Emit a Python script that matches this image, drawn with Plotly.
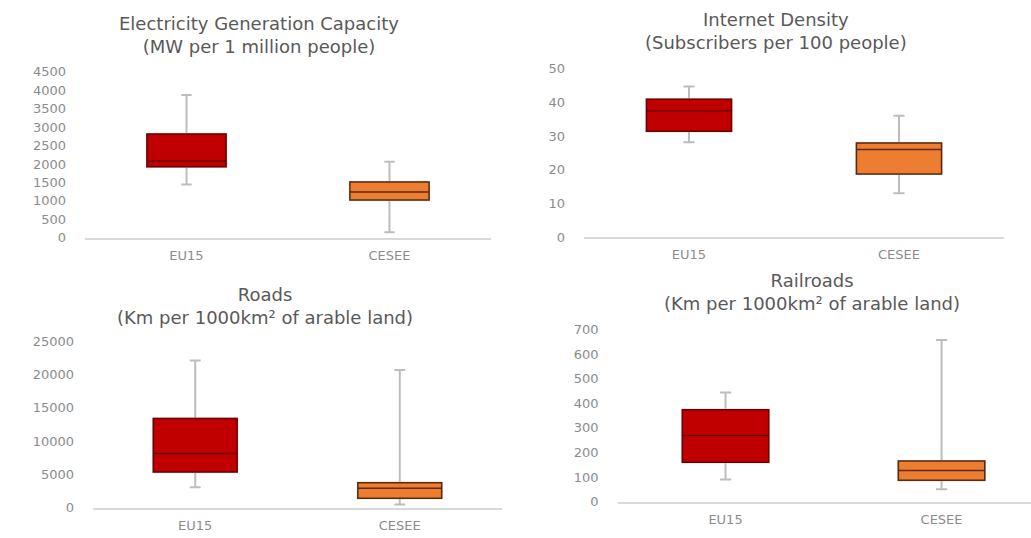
import plotly.graph_objects as go

# Categories shared by all four panels
categories = ["EU15", "CESEE"]

# Electricity generation capacity (MW per 1 million people)
elec_low = [1440, 150]
elec_q1 = [1925, 1020]
elec_med = [2080, 1240]
elec_q3 = [2810, 1510]
elec_high = [3870, 2060]

# Internet density (subscribers per 100 people)
net_low = [28.1, 13]
net_q1 = [31.4, 18.7]
net_med = [37.5, 26.0]
net_q3 = [40.9, 27.9]
net_high = [44.7, 36]

# Roads (km per 1000 km2 of arable land)
road_low = [3070, 490]
road_q1 = [5365, 1420]
road_med = [8140, 2920]
road_q3 = [13400, 3760]
road_high = [22120, 20700]

# Railroads (km per 1000 km2 of arable land)
rail_low = [90, 50]
rail_q1 = [160, 87]
rail_med = [269, 126]
rail_q3 = [374, 165]
rail_high = [444, 658]

titles = [
    "Electricity Generation Capacity<br>(MW per 1 million people)",
    "Internet Density<br>(Subscribers per 100 people)",
    "Roads<br>(Km per 1000km² of arable land)",
    "Railroads<br>(Km per 1000km² of arable land)",
]
y_max = [4500, 50, 25000, 700]
y_step = [500, 10, 5000, 100]

W, H = 1031, 538
FONT = "DejaVu Sans"
TITLE_C = "#595959"
TICK_C = "#8c8c8c"
WHISKER_C = "#bdbdbd"
FILLS = ["#c00000", "#ed7d31"]
EDGES = ["#6e0000", "#5c2a0c"]

# panel geometry in pixels: x0, x1, y_bottom, y_top, box width, x range end
panels = [
    (85, 491, 237.3, 66.7, 0.39, 1.5),
    (584, 1004, 236.7, 63.3, 0.405, 1.5),
    (93, 502, 515, 344, 0.41, 1.5),
    (617.5, 1031, 508.7, 332, 0.40, 1.414),
]
# title block centres in pixels
title_pos = [(259, 29), (776, 25), (265, 307.5), (812, 293.5)]

stats = [
    (elec_low, elec_q1, elec_med, elec_q3, elec_high),
    (net_low, net_q1, net_med, net_q3, net_high),
    (road_low, road_q1, road_med, road_q3, road_high),
    (rail_low, rail_q1, rail_med, rail_q3, rail_high),
]

fig = go.Figure()
layout = dict(
    width=W, height=H,
    margin=dict(l=0, r=0, t=0, b=0),
    paper_bgcolor="white", plot_bgcolor="white",
    boxmode="overlay", showlegend=False,
    font=dict(family=FONT, color=TICK_C, size=13),
    annotations=[],
)

for i, ((lo, q1, med, q3, hi), (x0, x1, yb, yt, bw, xr)) in enumerate(zip(stats, panels)):
    n = "" if i == 0 else str(i + 1)
    xa, ya = "x" + n, "y" + n

    # grey whiskers with short caps
    fig.add_trace(go.Box(
        x=categories, q1=q1, median=med, q3=q3, lowerfence=lo, upperfence=hi,
        width=bw, whiskerwidth=0.13, line=dict(color=WHISKER_C, width=2),
        fillcolor="rgba(0,0,0,0)", xaxis=xa, yaxis=ya, hoverinfo="skip",
    ))
    # coloured boxes drawn over the whiskers
    for j, cat in enumerate(categories):
        fig.add_trace(go.Box(
            x=[cat], q1=[q1[j]], median=[med[j]], q3=[q3[j]],
            lowerfence=[q1[j]], upperfence=[q3[j]],
            width=bw, whiskerwidth=0, fillcolor=FILLS[j],
            line=dict(color=EDGES[j], width=1.5),
            xaxis=xa, yaxis=ya,
        ))

    layout["xaxis" + n] = dict(
        domain=[x0 / W, x1 / W], anchor=ya, type="category",
        range=[-0.5, xr], showgrid=False, zeroline=False,
        showline=True, linecolor="#d9d9d9", linewidth=1.5,
        ticks="", ticklabelstandoff=5,
        tickfont=dict(family=FONT, size=13, color=TICK_C),
    )
    layout["yaxis" + n] = dict(
        domain=[1 - yb / H, 1 - yt / H], anchor=xa,
        range=[0, y_max[i]], dtick=y_step[i], tick0=0, tickformat="d",
        showgrid=False, zeroline=False, showline=False,
        ticks="", ticklabelstandoff=18,
        tickfont=dict(family=FONT, size=13, color=TICK_C),
    )

    tx, ty = title_pos[i]
    layout["annotations"].append(dict(
        text=titles[i], x=tx / W, y=1 - ty / H, xref="paper", yref="paper",
        xanchor="center", yanchor="middle", showarrow=False,
        font=dict(family=FONT, size=18, color=TITLE_C),
    ))

fig.update_layout(**layout)
fig.write_html("out.html")
